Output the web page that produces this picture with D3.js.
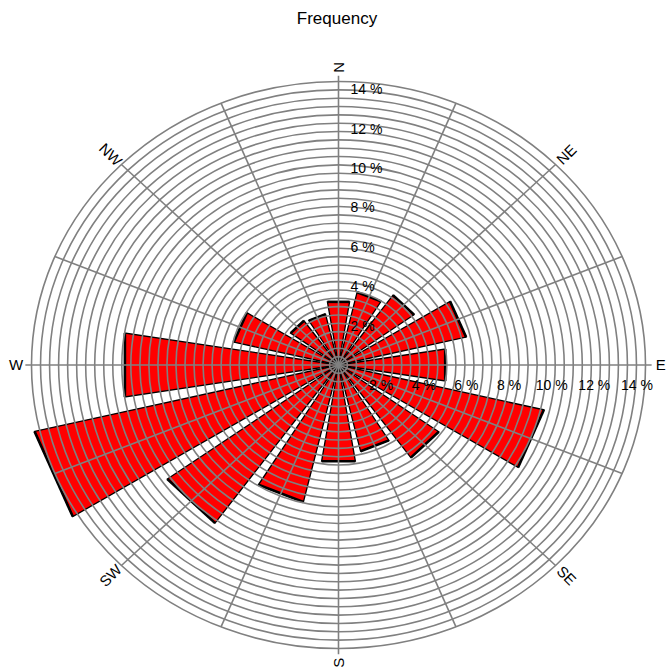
<!DOCTYPE html>
<html>
<head>
<meta charset="utf-8">
<script src="https://cdn.jsdelivr.net/npm/d3@7"></script>
<style>
  body { margin: 0; background: #fff; }
  text { font-family: "Liberation Sans", Arial, sans-serif; fill: #000; }
</style>
</head>
<body>
<div id="plot"></div>
<script>
// wind directions (16 sectors, clockwise from north)
const directions = ["N", "NNE", "NE", "ENE", "E", "ESE", "SE", "SSE",
                    "S", "SSW", "SW", "WSW", "W", "WNW", "NW", "NNW"];
// frequency per sector, in %
const frequency = [3.25, 3.8, 4.37, 6.15, 5.07, 9.9, 5.8, 4.5,
                   4.95, 7.15, 9.9, 14.65, 10.15, 5.05, 2.77, 2.65];
// compass labels drawn on the outside
const compassLabels = ["N", "NE", "E", "SE", "S", "SW", "W", "NW"];
const compassAngles = [0, 45, 90, 135, 180, 225, 270, 315];
// percentage tick labels
const pctTicks = [2, 4, 6, 8, 10, 12, 14];

const width = 672, height = 670;
const cx = 338.5, cy = 365;
const maxR = 14.4, ringCount = 34;
const halfWidth = 9.2; // degrees

const svg = d3.select("#plot").append("svg")
  .attr("width", width)
  .attr("height", height);

svg.append("rect").attr("width", width).attr("height", height).attr("fill", "#fff");

// plot is stretched: x and y radial scales differ
const rx = d3.scaleLinear().domain([0, maxR]).range([0, 307]);
const ry = d3.scaleLinear().domain([0, maxR]).range([0, 283.5]);
const angle = d3.scaleLinear().domain([0, directions.length]).range([0, 360]);

const rad = a => a * Math.PI / 180;
const pt = (v, a) => [cx + rx(v) * Math.sin(rad(a)), cy - ry(v) * Math.cos(rad(a))];

// title
svg.append("text")
  .attr("x", 337).attr("y", 24)
  .attr("text-anchor", "middle")
  .style("font-size", "17px")
  .text("Frequency");

// bars
const line = d3.line();
const bars = svg.append("g");
directions.forEach((d, i) => {
  const a = angle(i), v = frequency[i];
  const p1 = pt(v, a - halfWidth), p2 = pt(v, a + halfWidth);
  bars.append("path")
    .attr("d", line([[cx, cy], p1, p2]) + "Z")
    .attr("fill", "#ff0000")
    .attr("stroke", "#000")
    .attr("stroke-width", 1.3)
    .attr("stroke-linejoin", "miter");
  bars.append("path")
    .attr("d", line([p1, p2]))
    .attr("stroke", "#000")
    .attr("stroke-width", 2.6)
    .attr("fill", "none");
});

// rings
const grid = svg.append("g")
  .attr("fill", "none")
  .attr("stroke", "#808080")
  .attr("stroke-width", 1.6);
d3.range(1, ringCount + 1).forEach(k => {
  const v = k * maxR / ringCount;
  grid.append("ellipse")
    .attr("cx", cx).attr("cy", cy)
    .attr("rx", rx(v)).attr("ry", ry(v));
});

// spokes
directions.forEach((d, i) => {
  const a = angle(i);
  const end = pt(i % 4 === 0 ? maxR * 1.02 : maxR, a);
  grid.append("line")
    .attr("x1", cx).attr("y1", cy)
    .attr("x2", end[0]).attr("y2", end[1]);
});

// percentage labels on N and E axes
const labels = svg.append("g").style("font-size", "14px");
pctTicks.forEach(v => {
  labels.append("text")
    .attr("x", cx + 12)
    .attr("y", cy - ry(v))
    .attr("dy", "0.35em")
    .text(v + " %");
  labels.append("text")
    .attr("x", cx + rx(v))
    .attr("y", cy + 20)
    .attr("dy", "0.35em")
    .attr("text-anchor", "middle")
    .text(v + " %");
});

// compass labels, rotated along the radius
compassLabels.forEach((lab, i) => {
  const a = compassAngles[i];
  const [x, y] = pt(maxR * 1.05, a);
  let rot = ((a - 90) % 180 + 180) % 180;
  if (rot >= 90) rot -= 180;
  labels.append("text")
    .attr("transform", `translate(${x},${y}) rotate(${rot})`)
    .attr("text-anchor", "middle")
    .attr("dy", "0.35em")
    .style("font-size", "15px")
    .text(lab);
});
</script>
</body>
</html>
